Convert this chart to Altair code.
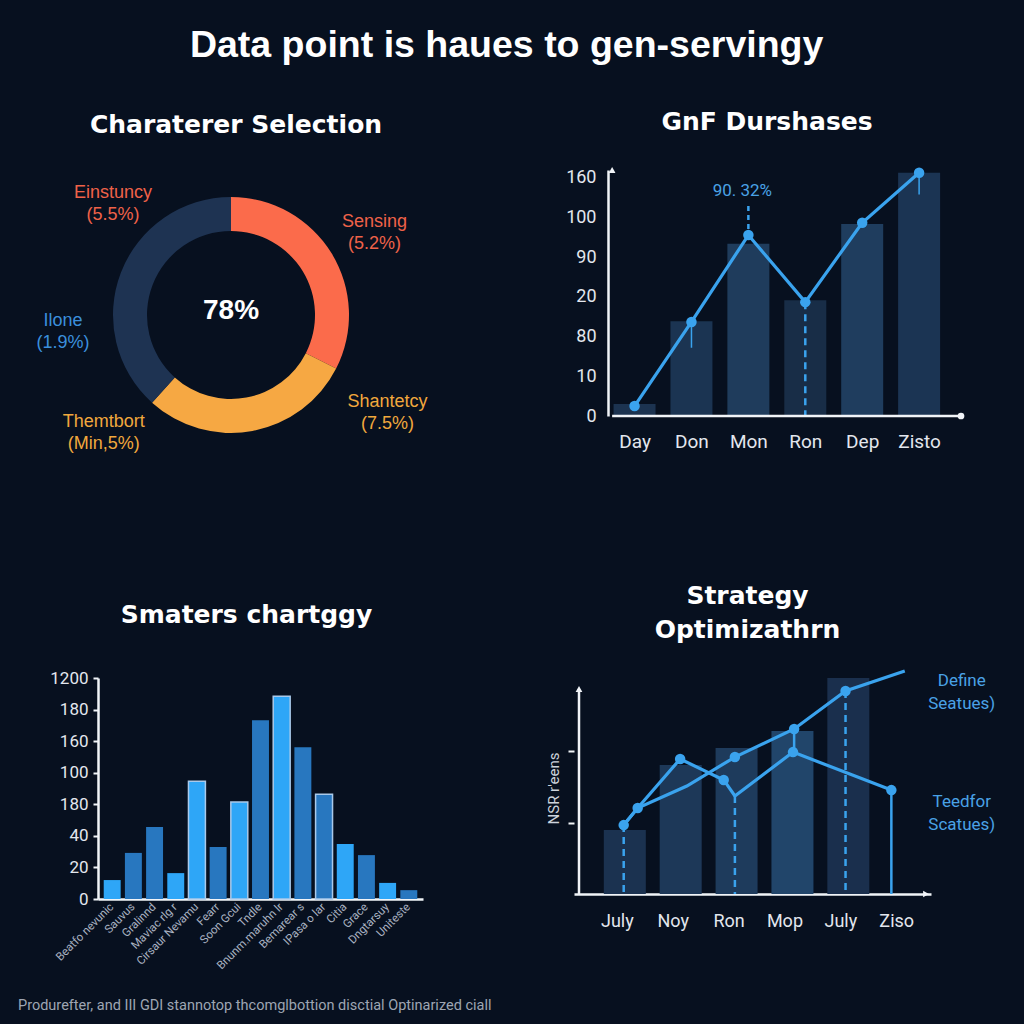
import json
import altair as alt
import pandas as pd

# ---------------- colours / fonts (style only)
BG = "#07101f"
AXIS_C = "#f1f4f8"
LABEL_C = "#e3e7ee"
BLUE = "#3aa3ee"
NOTE_BLUE = "#4aa2e6"
TITLE_FONT = "DejaVu Sans"
AX_FONT = "Roboto"

# ---------------- texts
main_title = "Data point is haues to gen-servingy"
footer_text = "Produrefter, and III GDI stannotop thcomglbottion disctial Optinarized ciall"

# ---------------- panel 1 : donut
p1_title = "Charaterer Selection"
donut_segments = ["Sensing", "Shantetcy", "Rest"]
donut_share_deg = [117, 105, 138]
donut_center_text = "78%"
donut_labels = ["Einstuncy\n(5.5%)", "Sensing\n(5.2%)", "Ilone\n(1.9%)",
                "Themtbort\n(Min,5%)", "Shantetcy\n(7.5%)"]
donut_label_deg = [316, 57, 268, 230, 119]
donut_label_r = [170, 171, 168, 166, 179]
donut_colors = ["#fb6b4b", "#f6a843", "#1e3352"]
donut_label_colors = ["#ef6249", "#ef6249", "#3b8fdc", "#f1a83d", "#f1a83d"]

# ---------------- panel 2 : bars + line
p2_title = "GnF Durshases"
p2_days = ["Day", "Don", "Mon", "Ron", "Dep", "Zisto"]
p2_bars = [0.30, 2.39, 4.34, 2.92, 4.84, 6.13]
p2_line = [0.25, 2.37, 4.56, 2.87, 4.87, 6.13]
p2_ticks = ["0", "10", "80", "20", "90", "100", "160"]
p2_note = "90. 32%"
p2_bar_colors = ["#1c3350", "#1b3452", "#1f3c5c", "#182d47", "#1f3d5e", "#1b3453"]

# ---------------- panel 3 : bars
p3_title = "Smaters chartggy"
p3_cats = ["Beatfo nevunic", "Sauvus", "Gralinnd", "Maviac rlg r", "Cirsaur Nevamu",
           "Fearr", "Soon Gcui", "Tndle", "Bnunm.maruhn lr", "Bemarear s",
           "IPasa o lar", "Citia", "Grace", "Dngtarsuy", "Uniteste"]
p3_vals = [0.60, 1.46, 2.28, 0.82, 3.73, 1.65, 3.07, 5.66, 6.42, 4.81, 3.32, 1.74, 1.39, 0.51, 0.28]
p3_ticks = ["0", "20", "40", "180", "100", "160", "180", "1200"]
p3_bright = [1, 0, 0, 1, 1, 0, 1, 0, 1, 0, 0, 1, 0, 1, 0]
p3_outlined = [0, 0, 0, 0, 1, 0, 1, 0, 1, 0, 1, 0, 0, 0, 0]

# ---------------- panel 4 : bars + two lines
p4_title = ["Strategy", "Optimizathrn"]
p4_months = ["July", "Noy", "Ron", "Mop", "July", "Ziso"]
p4_bars = [29.6, 59.7, 67.6, 75.5, 100.0]
p4_define_x = [-0.02, 0.23, 1.11, 1.97, 3.03, 3.95, 5.01]
p4_define_y = [31.9, 39.8, 50.0, 63.4, 76.4, 94.0, 103.2]
p4_define_dot = [1, 1, 0, 1, 1, 1, 0]
p4_teed_x = [-0.02, 0.23, 0.99, 1.77, 1.97, 3.01, 4.77]
p4_teed_y = [31.9, 39.8, 62.5, 52.8, 45.4, 65.7, 48.1]
p4_teed_dot = [0, 0, 1, 1, 0, 1, 1]
p4_series = ["Define\nSeatues)", "Teedfor\nScatues)"]
p4_series_label_x = [6.03, 6.03]
p4_series_label_y = [98.8, 42.4]
p4_axis_title = "NSR r'eens"
p4_tick_vals = [32.9, 66.2]
p4_bar_colors = ["#1b3250", "#1d3858", "#1e3b5c", "#21456a", "#1a2f4d"]

# ---------------- layout constants (pixels / axis extents)
W1, H1 = 266, 290
W2, H2 = 392, 246
X2 = [-0.976, 5.736]
X2_AXIS = -0.394
Y2 = [0, 6.2]
W3, H3 = 325, 221
W4, H4 = 357, 216
X4 = [-0.82, 5.39]
Y4 = [0, 100]
Y4_AXIS_TOP = 94.9


def title(text, dx, offset, **kw):
    return alt.TitleParams(text=text, anchor="middle", frame="group", dx=dx, offset=offset,
                           font=TITLE_FONT, fontSize=25, fontWeight="bold", color="white", **kw)


def label_expr(names):
    return json.dumps(names) + "[datum.value]"


# =============== panel 1
theta_scale = alt.Scale(domain=[0, 360])
df_donut = pd.DataFrame({"seg": donut_segments, "deg": donut_share_deg,
                         "col": donut_colors, "ord": list(range(len(donut_segments)))})
arc = alt.Chart(df_donut).mark_arc(innerRadius=84, outerRadius=118).encode(
    theta=alt.Theta("deg:Q", stack=True, scale=theta_scale),
    color=alt.Color("col:N", scale=None),
    order=alt.Order("ord:Q"),
)
df_lab = pd.DataFrame({"t": donut_labels, "a": donut_label_deg, "r": donut_label_r,
                       "c": donut_label_colors})
lab = alt.Chart(df_lab).mark_text(fontSize=18, lineBreak="\n", lineHeight=22,
                                  font="Liberation Sans").encode(
    theta=alt.Theta("a:Q", stack=False, scale=theta_scale),
    radius=alt.Radius("r:Q", scale=None),
    text="t:N",
    color=alt.Color("c:N", scale=None),
)
center = alt.Chart(pd.DataFrame({"t": [donut_center_text]})).mark_text(
    fontSize=28, fontWeight="bold", color="white", font="Liberation Sans", dy=-4).encode(
    text="t:N")
p1 = alt.layer(arc, lab, center).properties(
    width=W1, height=H1, title=title(p1_title, 5, 32))

# =============== panel 2
x2s = alt.Scale(domain=X2, nice=False, zero=False)
y2s = alt.Scale(domain=Y2, nice=False)
x2ax = alt.Axis(values=list(range(len(p2_days))), labelExpr=label_expr(p2_days), title=None,
                ticks=False, labelPadding=16, labelFontSize=19, domain=False)
y2ax = alt.Axis(values=list(range(len(p2_ticks))), labelExpr=label_expr(p2_ticks), title=None,
                ticks=False, labelPadding=12, labelFontSize=18, domainWidth=2.5, offset=-34)
df2 = pd.DataFrame({"i": list(range(len(p2_days))), "bar": p2_bars, "line": p2_line,
                    "col": p2_bar_colors})
b2 = alt.Chart(df2).mark_bar(width=42, orient="vertical").encode(
    x=alt.X("i:Q", scale=x2s, axis=x2ax),
    y=alt.Y("bar:Q", scale=y2s, axis=y2ax),
    color=alt.Color("col:N", scale=None))
l2 = alt.Chart(df2).mark_line(color=BLUE, strokeWidth=3.2).encode(
    x=alt.X("i:Q", scale=x2s), y=alt.Y("line:Q", scale=y2s))
pt2 = alt.Chart(df2).mark_point(filled=True, color=BLUE, size=110, opacity=1).encode(
    x=alt.X("i:Q", scale=x2s), y=alt.Y("line:Q", scale=y2s))
drop2 = pd.DataFrame({"i": [3], "y": [p2_line[3]], "y2": [0]})
stem2 = pd.DataFrame({"i": [2], "y": [p2_line[2] + 0.15], "y2": [p2_line[2] + 0.75]})
whisk2 = pd.DataFrame({"i": [1, 5], "y": [p2_line[1], p2_line[5]],
                       "y2": [p2_line[1] - 0.65, p2_line[5] - 0.55]})
r2a = alt.Chart(drop2).mark_rule(color=BLUE, strokeWidth=2.5, strokeDash=[7, 5]).encode(
    x=alt.X("i:Q", scale=x2s), y=alt.Y("y:Q", scale=y2s), y2="y2:Q")
r2b = alt.Chart(stem2).mark_rule(color=BLUE, strokeWidth=2.5, strokeDash=[5, 4]).encode(
    x=alt.X("i:Q", scale=x2s), y=alt.Y("y:Q", scale=y2s), y2="y2:Q")
r2c = alt.Chart(whisk2).mark_rule(color=BLUE, strokeWidth=1.5).encode(
    x=alt.X("i:Q", scale=x2s), y=alt.Y("y:Q", scale=y2s), y2="y2:Q")
note2 = alt.Chart(pd.DataFrame({"i": [2], "y": [p2_line[2] + 1.1], "t": [p2_note]})).mark_text(
    color=NOTE_BLUE, fontSize=17, font=AX_FONT, dx=-6).encode(
    x=alt.X("i:Q", scale=x2s), y=alt.Y("y:Q", scale=y2s), text="t:N")
xaxis2 = alt.Chart(pd.DataFrame({"x": [X2_AXIS], "x2": [X2[1]], "y": [0]})).mark_rule(
    color=AXIS_C, strokeWidth=2.5).encode(
    x=alt.X("x:Q", scale=x2s), x2="x2:Q", y=alt.Y("y:Q", scale=y2s))
arrow2 = alt.Chart(pd.DataFrame({"x": [X2_AXIS], "y": [Y2[1]]})).mark_point(
    shape="triangle-up", filled=True, color=AXIS_C, size=45, opacity=1).encode(
    x=alt.X("x:Q", scale=x2s), y=alt.Y("y:Q", scale=y2s))
dot2 = alt.Chart(pd.DataFrame({"x": [X2[1]], "y": [0]})).mark_point(
    shape="circle", filled=True, color=AXIS_C, size=45, opacity=1).encode(
    x=alt.X("x:Q", scale=x2s), y=alt.Y("y:Q", scale=y2s))
p2 = alt.layer(b2, r2a, r2b, r2c, xaxis2, l2, pt2, note2, arrow2, dot2).properties(
    width=W2, height=H2, title=title(p2_title, -3, 31))

# =============== panel 3
df3 = pd.DataFrame({"c": p3_cats, "v": p3_vals,
                    "col": ["#2ea6f7" if b else "#2877bf" for b in p3_bright],
                    "so": p3_outlined})
p3 = alt.Chart(df3).mark_bar(strokeWidth=1.5, stroke="#a9c9ea").encode(
    x=alt.X("c:N", sort=None,
            scale=alt.Scale(paddingInner=0.2, paddingOuter=0.27),
            axis=alt.Axis(title=None, labelAngle=315, labelAlign="right", labelBaseline="middle",
                          labelFontSize=11.5, labelColor="#aab3c2", ticks=False, labelPadding=6,
                          domainWidth=2.5)),
    y=alt.Y("v:Q", scale=alt.Scale(domain=[0, 7], nice=False),
            axis=alt.Axis(values=list(range(len(p3_ticks))), labelExpr=label_expr(p3_ticks),
                          title=None, tickSize=5, tickWidth=2, labelPadding=5, labelFontSize=17,
                          domainWidth=2.5)),
    color=alt.Color("col:N", scale=None),
    strokeOpacity=alt.StrokeOpacity("so:Q", scale=None),
).properties(width=W3, height=H3, title=title(p3_title, -14, 41))

# =============== panel 4
x4s = alt.Scale(domain=X4, nice=False, zero=False)
y4s = alt.Scale(domain=Y4, nice=False)
df4b = pd.DataFrame({"i": list(range(len(p4_bars))), "v": p4_bars, "col": p4_bar_colors})
b4 = alt.Chart(df4b).mark_bar(width=42, orient="vertical").encode(
    x=alt.X("i:Q", scale=x4s,
            axis=alt.Axis(values=list(range(len(p4_months))), labelExpr=label_expr(p4_months),
                          title=None, ticks=False, labelPadding=18, labelFontSize=18,
                          labelOffset=-8, domainWidth=2.5)),
    y=alt.Y("v:Q", scale=y4s,
            axis=alt.Axis(values=p4_tick_vals, labels=False, domain=False, tickSize=6, tickWidth=2,
                          title=p4_axis_title, titleFontSize=15, titleColor="#cdd3dc",
                          titleFontWeight="normal", titleFont=AX_FONT, titlePadding=6,
                          titleY=110)),
    color=alt.Color("col:N", scale=None))
rows = []
for k, (xs, ys, ds) in enumerate([(p4_define_x, p4_define_y, p4_define_dot),
                                   (p4_teed_x, p4_teed_y, p4_teed_dot)]):
    for j, (xv, yv, dv) in enumerate(zip(xs, ys, ds)):
        rows.append({"s": k, "o": j, "x": xv, "y": yv, "dot": dv})
df4l = pd.DataFrame(rows)
l4 = alt.Chart(df4l).mark_line(color=BLUE, strokeWidth=3.2).encode(
    x=alt.X("x:Q", scale=x4s), y=alt.Y("y:Q", scale=y4s),
    detail="s:N", order="o:Q")
pt4 = alt.Chart(df4l).transform_filter("datum.dot == 1").mark_point(
    filled=True, color=BLUE, size=110, opacity=1).encode(
    x=alt.X("x:Q", scale=x4s), y=alt.Y("y:Q", scale=y4s))
drops_dashed = pd.DataFrame({
    "x": [p4_define_x[0], p4_teed_x[4], p4_define_x[5]],
    "y": [p4_define_y[0], p4_teed_y[4], p4_define_y[5]],
    "y2": [0, 0, 0]})
drops_solid = pd.DataFrame({
    "x": [p4_teed_x[6], p4_define_x[4]],
    "y": [p4_teed_y[6], p4_define_y[4]],
    "y2": [0, p4_teed_y[5]]})
r4a = alt.Chart(drops_dashed).mark_rule(color=BLUE, strokeWidth=2.5, strokeDash=[7, 5]).encode(
    x=alt.X("x:Q", scale=x4s), y=alt.Y("y:Q", scale=y4s), y2="y2:Q")
r4b = alt.Chart(drops_solid).mark_rule(color=BLUE, strokeWidth=2.5).encode(
    x=alt.X("x:Q", scale=x4s), y=alt.Y("y:Q", scale=y4s), y2="y2:Q")
yaxis4 = alt.Chart(pd.DataFrame({"x": [X4[0]], "y": [0], "y2": [Y4_AXIS_TOP]})).mark_rule(
    color=AXIS_C, strokeWidth=2.5).encode(
    x=alt.X("x:Q", scale=x4s), y=alt.Y("y:Q", scale=y4s), y2="y2:Q")
arrow4 = alt.Chart(pd.DataFrame({"x": [X4[0], X4[1]], "y": [Y4_AXIS_TOP, 0],
                                 "sh": ["triangle-up", "triangle-right"]})).mark_point(
    filled=True, color=AXIS_C, size=45, opacity=1).encode(
    x=alt.X("x:Q", scale=x4s), y=alt.Y("y:Q", scale=y4s),
    shape=alt.Shape("sh:N", scale=None))
slab4 = alt.Chart(pd.DataFrame({"x": p4_series_label_x, "y": p4_series_label_y,
                                "t": p4_series})).mark_text(
    color=NOTE_BLUE, fontSize=17, font=AX_FONT, lineBreak="\n", lineHeight=23).encode(
    x=alt.X("x:Q", scale=x4s), y=alt.Y("y:Q", scale=y4s), text="t:N")
p4 = alt.layer(b4, r4a, r4b, yaxis4, arrow4, l4, pt4, slab4).properties(
    width=W4, height=H4, title=title(p4_title, -5, 22, lineHeight=34))

# =============== assemble
grid = alt.concat(
    p1, p2, p3, p4, columns=2, align="each", bounds="flush",
    spacing={"row": 218, "column": 151},
    title=alt.TitleParams(text=footer_text, orient="bottom", anchor="start", frame="group",
                          dx=-80, offset=28, font=AX_FONT, fontSize=14.5, fontWeight="normal",
                          color="#9ea6b3"),
)
chart = alt.vconcat(
    grid,
    title=alt.TitleParams(text=main_title, anchor="middle", font="Liberation Sans", fontSize=37.5,
                          fontWeight="bold", color="white", offset=46),
    background=BG,
    padding={"left": 18, "top": 26, "right": 28, "bottom": 11},
).configure_view(stroke=None).configure_axis(
    grid=False, domainColor=AXIS_C, tickColor=AXIS_C, labelColor=LABEL_C, labelFont=AX_FONT,
).configure_concat(spacing=0)

chart.save("out.html", embed_options={"renderer": "svg", "actions": False})
